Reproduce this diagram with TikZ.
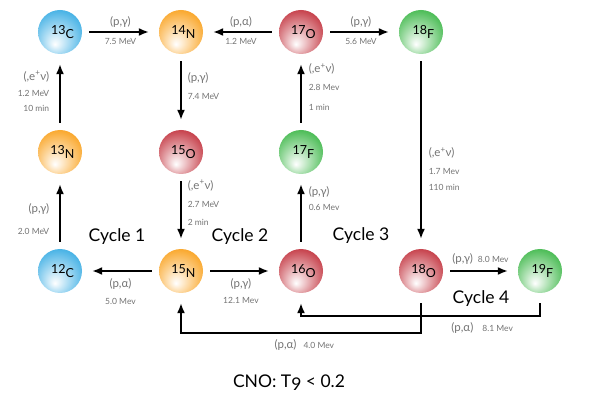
\documentclass[tikz,border=0pt]{standalone}
\usepackage{fontspec}
\setmainfont{Lato}
\usepackage{xcolor}
\usetikzlibrary{arrows.meta}
\definecolor{nucblue}{RGB}{75,180,230}
\definecolor{nucorange}{RGB}{250,170,50}
\definecolor{nucred}{RGB}{200,70,80}
\definecolor{nucgreen}{RGB}{80,190,90}
\definecolor{labgrey}{RGB}{115,115,115}
\pgfdeclareradialshading{ballblue}{\pgfpoint{-6bp}{-14bp}}{color(0bp)=(white); color(30bp)=(nucblue); color(50bp)=(nucblue!90!black)}
\pgfdeclareradialshading{ballorange}{\pgfpoint{-6bp}{-14bp}}{color(0bp)=(white); color(30bp)=(nucorange); color(50bp)=(nucorange!90!black)}
\pgfdeclareradialshading{ballred}{\pgfpoint{-6bp}{-14bp}}{color(0bp)=(white); color(30bp)=(nucred); color(50bp)=(nucred!90!black)}
\pgfdeclareradialshading{ballgreen}{\pgfpoint{-6bp}{-14bp}}{color(0bp)=(white); color(30bp)=(nucgreen); color(50bp)=(nucgreen!90!black)}
\newcommand{\iso}[2]{\hspace*{5pt}#1\raisebox{-0.35em}{#2}}
\newcommand{\rx}[1]{{\fontsize{11.5}{11.5}\selectfont #1}}

\begin{document}
\begin{tikzpicture}[x=1pt,y=1pt,
    nucl/.style={circle,minimum size=44pt,inner sep=0pt,shade,font=\fontsize{12.5}{13}\selectfont},
    bluenuc/.style={nucl,shading=ballblue},
    orangenuc/.style={nucl,shading=ballorange},
    rednuc/.style={nucl,shading=ballred},
    greennuc/.style={nucl,shading=ballgreen},
    rxn/.style={-{Latex[length=10pt,width=8pt]},line width=1.6pt,shorten <=7pt,shorten >=10pt},
    lab/.style={font=\fontsize{8.5}{16}\selectfont,text=labgrey,inner sep=0pt},
    cyc/.style={font=\fontsize{17.5}{18}\selectfont,anchor=base}]
    \useasboundingbox (0,0) rectangle (600,402);
    % nuclei
    \node[bluenuc] (c13) at (60,370) {\iso{13}{C}};
    \node[orangenuc] (n14) at (181,370) {\iso{14}{N}};
    \node[rednuc] (o17) at (301,370) {\iso{17}{O}};
    \node[greennuc] (f18) at (421,370) {\iso{18}{F}};
    \node[orangenuc] (n13) at (60,250) {\iso{13}{N}};
    \node[rednuc] (o15) at (181,250) {\iso{15}{O}};
    \node[greennuc] (f17) at (301,250) {\iso{17}{F}};
    \node[bluenuc] (c12) at (60,131) {\iso{12}{C}};
    \node[orangenuc] (n15) at (181,131) {\iso{15}{N}};
    \node[rednuc] (o16) at (301,131) {\iso{16}{O}};
    \node[rednuc] (o18) at (421,131) {\iso{18}{O}};
    \node[greennuc] (f19) at (540,131) {\iso{19}{F}};
    % top row
    \draw[rxn] (c13) -- node[lab,above=4pt] {\rx{(p,γ)}} node[lab,below=6pt] {7.5 MeV} (n14);
    \draw[rxn] (o17) -- node[lab,above=4pt] {\rx{(p,α)}} node[lab,below=6pt] {1.2 MeV} (n14);
    \draw[rxn] (o17) -- node[lab,above=4pt] {\rx{(p,γ)}} node[lab,below=6pt] {5.6 MeV} (f18);
    % vertical steps
    \draw[rxn] (n13) -- node[lab,pos=0.51,left=10pt,align=right] {\rx{(,e\textsuperscript{+}ν)}\\1.2 MeV\\[-1pt]10 min} (c13);
    \draw[rxn] (n14) -- node[lab,pos=0.42,right=6pt,align=left] {\rx{(p,γ)}\\[2pt]7.4 MeV} (o15);
    \draw[rxn] (f17) -- node[lab,pos=0.56,right=7pt,align=left] {\rx{(,e\textsuperscript{+}ν)}\\[2pt]2.8 Mev\\[4pt]1 min} (o17);
    \draw[rxn] (f18) -- node[lab,pos=0.59,right=7pt,align=left] {\rx{(,e\textsuperscript{+}ν)}\\[2pt]1.7 Mev\\110 min} (o18);
    \draw[rxn] (c12) -- node[lab,pos=0.40,left=10pt,align=right] {\rx{(p,γ)}\\[6pt]2.0 MeV} (n13);
    \draw[rxn] (o15) -- node[lab,pos=0.38,right=6pt,align=left] {\rx{(,e\textsuperscript{+}ν)}\\[2pt]2.7 MeV\\[2pt]2 min} (n15);
    \draw[rxn] (o16) -- node[lab,pos=0.67,right=7pt,align=left] {\rx{(p,γ)}\\[-1pt]0.6 Mev} (f17);
    % bottom row
    \draw[rxn] (n15) -- node[lab,below=7pt,align=center] {\rx{(p,α)}\\[1pt]5.0 Mev} (c12);
    \draw[rxn] (n15) -- node[lab,below=7pt,align=center] {\rx{(p,γ)}\\[0pt]12.1 Mev} (o16);
    \draw[rxn] (o18) -- node[lab,above=6pt] {\rx{(p,γ)}\hspace{5pt}8.0 Mev} (f19);
    % return branches
    \draw[rxn,shorten <=10pt] (f19.south) -- ++(0,-23) -| node[lab,pos=0.121,below=5.5pt] {\rx{(p,α)}\hspace{9pt}8.1 Mev} (o16.south);
    \draw[rxn,shorten <=10pt] (o18.south) -- ++(0,-40) -| node[lab,pos=0.243,below=5.5pt] {\rx{(p,α)}\hspace{7pt}4.0 Mev} (n15.south);
    % cycles
    \node[cyc] (cyc1) at (117,160) {Cycle 1};
    \node[cyc] (cyc2) at (240,160) {Cycle 2};
    \node[cyc] (cyc3) at (361,161) {Cycle 3};
    \node[cyc] (cyc4) at (481,98) {Cycle 4};
    \node[cyc] (title) at (289,15) {CNO: T\raisebox{-0.2em}{9} < 0.2};
\end{tikzpicture}
\end{document}
